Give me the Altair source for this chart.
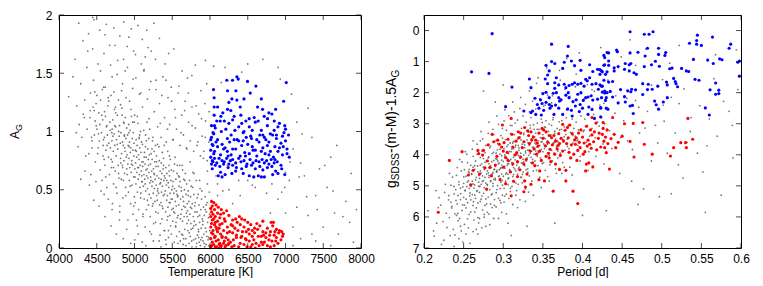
import altair as alt
import pandas as pd

FONT = "Liberation Sans"

# ---------------- left panel: Temperature vs A_G ----------------
L_XTICKS = [4000, 4500, 5000, 5500, 6000, 6500, 7000, 7500, 8000]
L_YTICKS = [0, 0.5, 1, 1.5, 2]

L_GRAY_CORE = [
    (4410,1.12),(4437,0.86),(4452,1.21),(4468,0.97),(4475,1.34),(4481,0.74),(4493,1.05),(4422,0.63),
    (4503,1.02),(4512,0.81),(4528,1.16),(4534,0.92),(4546,0.67),(4551,1.27),(4563,0.99),(4570,0.58),(4578,1.10),(4585,0.88),(4592,1.38),(4597,0.76),
    (4602,0.95),(4609,0.71),(4615,1.13),(4621,0.84),(4628,1.04),(4633,0.52),(4641,0.97),(4647,1.22),(4655,0.78),(4660,0.90),(4668,0.63),(4674,1.08),(4681,0.86),(4688,1.31),(4693,0.69),(4699,0.99),
    (4701,0.92),(4706,0.74),(4712,1.10),(4718,0.83),(4723,0.55),(4729,0.98),(4734,1.19),(4740,0.88),(4745,0.66),(4751,1.04),(4757,0.79),(4762,0.93),(4768,0.47),(4773,1.14),(4779,0.85),(4784,0.71),(4790,1.00),(4795,0.60),(4714,0.96),(4787,1.27),
    (4802,1.05),(4806,0.36),(4811,0.90),(4815,0.77),(4820,0.99),(4824,0.59),(4829,0.81),(4833,1.20),(4838,0.71),(4842,0.91),(4847,0.43),(4851,0.88),(4856,1.08),(4860,0.75),(4865,0.97),(4869,0.64),(4874,0.83),(4878,1.12),(4883,0.52),(4887,0.94),(4892,0.78),(4896,1.03),(4845,0.69),(4871,0.86),
    (4901,0.80),(4905,0.63),(4909,0.97),(4912,0.72),(4916,0.88),(4920,0.48),(4923,1.06),(4927,0.77),(4931,0.58),(4934,0.91),(4938,0.69),(4942,1.01),(4945,0.82),(4949,0.38),(4952,0.86),(4956,0.65),(4960,1.13),(4963,0.75),(4967,0.54),(4970,0.94),(4974,0.71),(4978,0.84),(4981,0.29),(4985,0.99),(4988,0.61),(4992,0.79),(4995,0.90),(4998,0.44),
    (5002,1.14),(5005,0.68),(5009,0.39),(5012,0.84),(5015,0.73),(5019,0.55),(5022,0.93),(5025,0.24),(5029,0.78),(5032,0.65),(5035,0.88),(5039,0.48),(5042,0.69),(5045,1.07),(5049,0.59),(5052,0.80),(5055,0.33),(5059,0.76),(5062,0.95),(5065,0.63),(5069,0.86),(5072,0.52),(5075,0.71),(5079,1.00),(5082,0.43),(5085,0.82),(5089,0.66),(5092,0.91),(5095,0.57),(5098,0.74),
    (5102,0.57),(5105,0.89),(5108,0.70),(5112,0.27),(5115,0.74),(5118,0.53),(5122,1.01),(5125,0.63),(5128,0.42),(5132,0.82),(5135,0.59),(5138,0.72),(5142,0.18),(5145,0.87),(5148,0.49),(5152,0.67),(5155,0.78),(5158,0.33),(5162,0.62),(5165,1.08),(5168,0.68),(5172,0.51),(5175,0.85),(5178,0.60),(5182,0.76),(5185,0.37),(5188,0.94),(5192,0.65),(5195,0.46),(5198,0.80),
    (5201,1.02),(5204,0.56),(5208,0.27),(5211,0.72),(5214,0.61),(5218,0.43),(5221,0.81),(5224,0.12),(5228,0.66),(5231,0.53),(5234,0.76),(5238,0.36),(5241,0.57),(5244,0.95),(5248,0.47),(5251,0.68),(5254,0.21),(5258,0.64),(5261,0.83),(5264,0.51),(5268,0.74),(5271,0.40),(5274,0.59),(5278,0.88),(5281,0.31),(5284,0.70),(5288,0.54),(5291,0.79),(5294,0.45),(5298,0.62),
    (5301,0.41),(5305,0.89),(5308,0.51),(5312,0.30),(5315,0.70),(5319,0.47),(5322,0.60),(5326,0.06),(5329,0.75),(5333,0.37),(5336,0.55),(5340,0.66),(5343,0.21),(5347,0.56),(5350,0.39),(5354,0.73),(5357,0.48),(5361,0.64),(5364,0.25),(5368,0.82),(5371,0.53),(5375,0.34),(5378,0.68),(5382,0.45),(5385,0.77),(5389,0.58),(5392,0.15),(5396,0.62),
    (5401,0.15),(5405,0.60),(5408,0.49),(5412,0.31),(5415,0.69),(5419,0.03),(5422,0.54),(5426,0.41),(5429,0.64),(5433,0.24),(5436,0.45),(5440,0.83),(5443,0.35),(5447,0.56),(5450,0.09),(5454,0.52),(5457,0.71),(5461,0.39),(5464,0.62),(5468,0.28),(5471,0.47),(5475,0.76),(5478,0.19),(5482,0.58),(5485,0.42),(5489,0.67),(5492,0.33),(5496,0.50),
    (5502,0.42),(5506,0.23),(5510,0.57),(5513,0.34),(5517,0.66),(5521,0.47),(5525,0.05),(5529,0.51),(5533,0.30),(5536,0.78),(5540,0.40),(5544,0.19),(5548,0.59),(5552,0.36),(5555,0.49),(5559,0.10),(5563,0.64),(5567,0.26),(5571,0.44),(5575,0.45),(5578,0.28),(5582,0.62),(5586,0.37),(5590,0.53),(5594,0.14),(5598,0.71),
    (5602,0.57),(5606,0.06),(5610,0.42),(5615,0.29),(5619,0.52),(5623,0.12),(5627,0.33),(5632,0.71),(5636,0.23),(5640,0.44),(5644,0.03),(5649,0.40),(5653,0.59),(5657,0.27),(5661,0.50),(5666,0.16),(5670,0.35),(5674,0.64),(5678,0.08),(5683,0.46),(5687,0.30),(5691,0.55),(5695,0.21),(5699,0.38),
    (5702,0.32),(5707,0.15),(5711,0.49),(5716,0.24),(5720,0.40),(5725,0.04),(5729,0.58),(5734,0.29),(5738,0.10),(5743,0.44),(5747,0.21),(5752,0.53),(5756,0.34),(5761,0.01),(5765,0.38),(5770,0.17),(5774,0.65),(5779,0.27),(5783,0.07),(5788,0.46),(5792,0.23),(5797,0.36),
    (5803,0.39),(5808,0.08),(5813,0.20),(5818,0.58),(5823,0.04),(5828,0.31),(5833,0.11),(5838,0.27),(5843,0.46),(5848,0.14),(5853,0.37),(5858,0.05),(5863,0.22),(5868,0.51),(5873,0.02),(5878,0.33),(5883,0.17),(5888,0.42),(5893,0.09),(5898,0.25),
    (5903,0.20),(5908,0.06),(5914,0.35),(5919,0.12),(5925,0.28),(5930,0.01),(5936,0.44),(5941,0.17),(5947,0.03),(5952,0.31),(5958,0.10),(5963,0.39),(5969,0.22),(5974,0.07),(5980,0.26),(5985,0.02),(5991,0.48),(5996,0.15),
]

L_GRAY_WIDE = [
    (4438,0.92),(4466,1.18),(4489,0.57),(4518,0.86),(4541,1.06),(4557,0.49),(4583,0.79),(4604,1.17),(4619,0.61),(4637,0.88),(4652,0.42),(4677,1.01),(4691,0.76),(4708,0.38),(4721,0.69),(4738,1.05),(4756,0.52),(4771,0.89),(4789,0.64),(4804,0.31),(4818,0.73),(4836,1.14),(4853,0.58),(4867,0.96),(4884,0.45),(4898,0.68),(4913,0.24),(4929,0.87),(4944,0.53),(4961,0.72),(4976,1.08),(4991,0.36),
    (5007,0.61),(5024,0.83),(5038,0.19),(5053,0.69),(5068,0.97),(5084,0.47),(5097,0.62),(5113,0.29),(5129,0.78),(5141,0.55),(5157,0.92),(5171,0.41),(5186,0.71),(5203,0.14),(5217,0.58),(5232,0.85),(5246,0.38),(5263,0.63),(5279,0.22),(5293,0.74),(5306,0.49),(5324,0.87),(5338,0.11),(5353,0.59),(5367,0.36),(5384,0.71),(5397,0.46),
    (5413,0.07),(5428,0.58),(5442,0.27),(5458,0.66),(5473,0.39),(5487,0.12),(5504,0.53),(5519,0.31),(5531,0.72),(5547,0.18),(5562,0.46),(5577,0.04),(5593,0.61),(5608,0.25),(5621,0.49),(5638,0.11),(5652,0.36),(5668,0.58),(5681,0.02),(5697,0.27),(5712,0.45),(5726,0.13),(5741,0.35),(5757,0.06),(5772,0.52),(5786,0.19),(5801,0.31),(5817,0.01),(5831,0.43),(5846,0.16),(5862,0.28),(5877,0.07),(5891,0.49),(5906,0.23),(5922,0.04),(5937,0.33),(5951,0.14),(5966,0.55),(5982,0.09),(5994,0.29),
    (4345,0.66),(4372,1.02),(4395,0.81),(4253,0.87),(4288,0.59),(4320,1.15),(4460,0.41),(4530,0.36),(4610,0.27),(4690,0.19),(4760,0.12),(4850,0.08),(4950,0.04),(5050,0.12),(5150,0.02),(5250,0.06),(5350,0.01),(5450,0.15),(5550,0.22),(5650,0.08),(5750,0.16),(5850,0.09),(5950,0.37),
    (4412,1.18),(4431,0.95),(4457,1.44),(4479,1.09),(4502,1.31),(4524,0.98),(4549,1.52),(4567,1.14),(4589,0.93),(4613,1.38),(4636,1.05),(4659,1.26),(4683,1.57),(4704,1.02),(4727,1.34),(4752,1.16),(4771,1.49),(4798,0.96),(4816,1.23),(4841,1.41),(4862,1.07),(4889,1.29),(4907,1.55),(4926,0.99),(4953,1.19),(4975,1.37),(4996,1.08),
    (5018,1.46),(5037,1.13),(5061,0.94),(5083,1.33),(5106,1.21),(5124,1.52),(5147,0.97),(5171,1.28),(5193,1.11),(5216,1.43),(5239,0.92),(5262,1.17),(5286,1.36),(5307,1.04),(5331,1.24),(5352,0.95),(5377,1.47),(5398,1.12),(5421,0.91),(5444,1.29),(5466,1.06),(5487,1.38),
    (5512,0.93),(5534,1.19),(5557,1.02),(5579,1.33),(5603,0.88),(5626,1.14),(5648,0.97),(5671,1.26),(5694,0.85),(5717,1.08),(5738,0.92),(5762,1.21),(5784,0.83),(5806,1.03),(5829,0.88),(5851,1.15),(5873,0.79),(5896,0.96),(5918,0.83),(5941,1.09),(5963,0.75),(5986,0.91),
    (4855,1.62),(5142,1.64),(5405,1.58),(5630,1.52),(5880,1.35),(5520,1.71),(5760,1.48),(5940,1.61),(5330,1.80),
]

L_GRAY_HALO = [
    (4213,1.62),(4262,1.93),(4288,1.41),(4317,1.78),(4341,1.27),(4369,1.55),(4392,1.84),(4418,1.33),(4446,1.71),(4463,1.96),(4491,1.24),(4517,1.58),(4539,1.87),(4574,1.36),(4596,1.67),(4627,1.92),(4652,1.29),(4671,1.74),(4703,1.47),(4726,1.89),
    (4748,1.21),(4777,1.61),(4806,1.82),(4829,1.35),(4858,1.94),(4877,1.52),(4903,1.73),(4934,1.26),(4958,1.88),(4981,1.45),(5013,1.66),(5047,1.91),(5066,1.32),(5104,1.79),(5127,1.53),(5163,1.87),(5198,1.36),(5222,1.69),(5257,1.93),(5283,1.44),
    (4236,1.22),(4185,1.47),(4128,1.30),(4304,0.95),(4268,1.06),(4355,0.79),(4402,0.54),(4334,1.12),(4229,0.99),(4381,1.69),(4447,1.98),(4609,1.83),(4742,1.74),(4925,1.81),(5181,1.72),(5278,1.62),(5452,1.67),(5090,1.58),(4990,1.69),
    (5340,1.07),(5362,1.31),(5393,0.88),(5417,1.44),(5438,1.02),(5463,0.79),(5491,1.26),(5508,0.93),(5543,1.12),(5566,0.71),(5588,1.39),(5615,0.99),(5637,0.67),(5664,1.18),(5686,0.86),(5712,1.33),(5737,0.74),(5763,1.05),(5788,0.64),(5815,1.22),(5839,0.91),(5862,0.58),(5887,1.11),(5913,0.77),(5938,0.95),(5965,0.66),(5988,1.17),
    (5702,1.46),(5806,1.57),(5932,1.24),(5957,1.41),(6048,1.56),(4598,0.46),(4703,0.33),(4801,0.24),(4897,0.16),(5004,0.07),(5103,0.05),
    (6100,0.55),(6250,0.50),(6400,0.45),(6500,0.58),(6600,0.52),(6750,0.47),(6900,0.42),(7050,0.58),(7150,0.35),(7250,0.62),(7300,0.28),(7400,0.45),(7500,0.18),(7550,0.52),(7650,0.30),(7700,0.12),(7800,0.40),(7850,0.22),(7900,0.05),(7100,0.85),
    (7200,0.73),(7350,0.95),(7450,0.68),(7600,0.78),(7100,0.18),(7200,0.08),(7400,0.06),(7000,0.30),(6950,0.48),(7150,1.08),(7300,1.20),(6200,1.55),(6700,1.62),(6500,1.58),(7100,0.02),(7600,0.02),(6100,0.45),(6300,0.38),(6800,0.30),(7000,0.65),
    (6080,0.62),(6230,0.71),(6170,0.49),(6380,0.58),(6560,0.54),(6820,0.55),(6990,0.52),(7060,0.74),(7180,0.61),(7280,0.44),(7420,0.33),(7520,0.71),(7630,0.49),(7760,0.27),(7940,0.33),(7350,0.12),(7080,1.32),(7220,0.98),(6930,1.45),(6150,1.42),(6420,1.51),(6900,1.55),(7680,0.88),(7870,0.64),
]

L_BLUE = [
    (6356,1.47),(6374,1.45),(6223,1.44),(6298,1.44),(6497,1.43),(7010,1.42),(6608,1.39),(6046,1.36),(6343,1.35),(6232,1.35),(6533,1.33),(6290,1.28),(6055,1.29),(6356,1.27),(6975,1.26),(6055,1.21),(6100,1.21),(6232,1.19),(6630,1.21),(6276,1.18),(6696,1.19),(6869,1.19),(6820,1.15),(6320,1.13),(6409,1.14),(6055,1.14),(6144,1.13),(6519,1.11),(6585,1.12),(6718,1.13),(6475,1.09),(6638,1.09),(6762,1.11),(6135,1.09),(6851,1.09),
    (6020,1.05),(6040,0.99),(6070,1.03),(6190,1.09),(6210,1.02),(6250,1.07),(6300,1.10),(6380,1.04),(6420,1.07),(6450,1.00),(6520,1.04),(6560,1.01),(6600,1.08),(6680,1.01),(6700,0.97),(6760,1.05),(6800,0.98),(6850,1.01),(6900,1.04),(6960,0.96),(7000,1.02),(7040,0.97),(6980,0.99),
    (6020,0.95),(6050,0.98),(6100,0.93),(6150,1.00),(6230,0.94),(6280,0.97),(6330,1.01),(6360,0.93),(6440,0.99),(6480,0.95),(6540,0.96),(6620,0.93),(6660,0.97),(6720,0.95),(6780,0.91),(6830,0.97),(6880,0.94),(6940,0.90),(7000,0.92),(6970,0.87),
    (6010,0.93),(6040,0.88),(6080,0.91),(6160,0.89),(6200,0.86),(6260,0.91),(6300,0.85),(6380,0.92),(6420,0.88),(6500,0.89),(6560,0.87),(6600,0.84),(6650,0.91),(6700,0.86),(6760,0.88),(6800,0.83),(6860,0.87),(6920,0.86),(7020,0.85),
    (6010,0.84),(6060,0.83),(6100,0.87),(6140,0.80),(6180,0.85),(6230,0.83),(6280,0.80),(6340,0.85),(6400,0.79),(6460,0.82),(6520,0.81),(6570,0.84),(6620,0.79),(6680,0.83),(6730,0.81),(6780,0.80),(6840,0.78),(6900,0.83),(6960,0.80),(7050,0.78),(7020,0.81),
    (6010,0.78),(6030,0.75),(6060,0.77),(6090,0.73),(6120,0.77),(6160,0.75),(6190,0.74),(6220,0.77),(6250,0.72),(6270,0.75),(6300,0.76),(6340,0.73),(6380,0.77),(6410,0.74),(6450,0.75),(6490,0.72),(6530,0.76),(6570,0.73),(6610,0.75),(6650,0.74),(6690,0.76),(6720,0.73),(6750,0.75),(6780,0.72),(6810,0.76),(6850,0.73),(6890,0.74),
    (6020,0.72),(6070,0.71),(6130,0.70),(6180,0.72),(6240,0.69),(6300,0.71),(6350,0.69),(6420,0.68),(6480,0.70),(6550,0.71),(6600,0.68),(6660,0.70),(6700,0.67),(6760,0.69),(6820,0.70),(6870,0.66),(6950,0.68),(6990,0.63),
    (6140,0.65),(6200,0.63),(6290,0.64),(6340,0.66),(6440,0.64),(6520,0.62),(6580,0.61),(6640,0.62),(6680,0.61),(6720,0.61),(6830,0.63),(6900,0.64),(6160,0.61),(6110,0.62),(6030,0.68),(6040,0.74),(6050,0.81),(6030,0.89),(6060,1.05),(6090,1.09),(6170,1.16),(6400,1.21),(6250,1.25),(6450,1.28),(6680,1.28),(6780,1.16),(6920,1.07),(6990,1.05),(6860,0.76),(6940,0.71),(6240,0.79),(6470,0.79),(6440,0.92),(6550,0.94),(6320,0.93),(6740,0.93),(6880,0.97),
]

L_RED = [
    (6020,0.40),(6050,0.39),(6080,0.37),(6030,0.36),(6110,0.35),(6010,0.34),(6060,0.33),(6150,0.33),(6220,0.32),(6020,0.31),(6100,0.30),(6040,0.29),(6180,0.30),(6250,0.28),(6010,0.27),(6070,0.27),(6130,0.26),(6390,0.27),(6420,0.25),(6300,0.24),(6340,0.25),(6460,0.24),(6030,0.24),(6100,0.23),(6200,0.23),(6360,0.22),(6500,0.22),(6700,0.23),(6810,0.22),(6840,0.22),
    (6020,0.21),(6060,0.20),(6160,0.21),(6280,0.20),(6400,0.20),(6540,0.20),(6620,0.21),(6010,0.18),(6080,0.18),(6120,0.17),(6230,0.18),(6330,0.17),(6450,0.18),(6590,0.17),(6760,0.17),(6880,0.16),(6040,0.15),(6100,0.14),(6180,0.15),(6260,0.14),(6370,0.15),(6480,0.14),(6560,0.15),(6700,0.14),(6800,0.14),(6950,0.14),(6910,0.13),
    (6020,0.13),(6070,0.10),(6140,0.12),(6210,0.09),(6300,0.13),(6420,0.10),(6520,0.12),(6640,0.10),(6740,0.13),(6850,0.11),(6960,0.10),
    (6010,0.08),(6060,0.09),(6110,0.07),(6160,0.09),(6240,0.07),(6350,0.09),(6470,0.08),(6580,0.07),(6680,0.10),(6780,0.07),(6880,0.09),(6940,0.07),
    (6030,0.05),(6080,0.06),(6130,0.04),(6190,0.06),(6270,0.05),(6400,0.04),(6520,0.06),(6610,0.04),(6720,0.05),(6820,0.06),(6900,0.04),
    (6020,0.02),(6050,0.03),(6090,0.01),(6120,0.03),(6150,0.02),(6180,0.04),(6210,0.02),(6240,0.03),(6320,0.02),(6450,0.03),(6490,0.01),(6560,0.03),(6650,0.02),(6700,0.03),(6760,0.02),(6850,0.02),
    (6010,0.01),(6070,0.01),(6100,0.00),(6140,0.01),(6200,0.01),(6290,0.01),(6380,0.01),(6540,0.01),(6600,0.00),(6800,0.01),(6040,0.12),(6090,0.16),(6050,0.25),(6130,0.20),(6160,0.10),(6230,0.13),(6310,0.07),(6430,0.14),(6480,0.07),(6560,0.10),(6630,0.16),(6680,0.05),(6740,0.09),(6830,0.19),(6870,0.06),(6920,0.15),(6970,0.12),(6250,0.04),(6350,0.11),(6410,0.09),(6590,0.13),(6660,0.19),(6710,0.11),(6790,0.11),(6860,0.14),(6300,0.19),(6510,0.16),(6140,0.29),(6190,0.25),(6070,0.22),
]

# ---------------- right panel: Period vs g_SDSS-(m-M)-1.5A_G ----------------
R_XTICKS = [0.2, 0.25, 0.3, 0.35, 0.4, 0.45, 0.5, 0.55, 0.6]
R_YTICKS = [0, 1, 2, 3, 4, 5, 6, 7]

R_GRAY_CORE = [
    (0.221,5.62),(0.224,6.15),(0.226,5.21),(0.228,5.88),(0.216,6.20),(0.218,5.70),
    (0.231,5.45),(0.232,6.02),(0.234,4.98),(0.235,5.71),(0.237,6.40),(0.238,5.26),(0.239,5.90),(0.233,6.60),
    (0.240,5.12),(0.241,4.66),(0.242,5.58),(0.243,5.31),(0.244,4.87),(0.245,6.05),(0.246,5.44),(0.247,4.52),(0.248,5.79),(0.249,5.03),(0.247,6.45),(0.241,5.95),(0.244,6.70),(0.246,6.30),
    (0.250,4.92),(0.250,5.37),(0.251,4.48),(0.252,5.16),(0.253,5.71),(0.253,4.69),(0.254,5.02),(0.255,4.25),(0.255,5.54),(0.256,4.83),(0.257,5.92),(0.257,4.58),(0.258,5.23),(0.258,4.96),(0.259,5.45),(0.259,4.34),(0.251,6.24),(0.257,5.08),(0.253,6.55),(0.256,6.35),
    (0.260,4.61),(0.261,5.28),(0.261,4.85),(0.262,5.63),(0.262,4.40),(0.263,5.07),(0.264,4.97),(0.264,5.84),(0.265,4.20),(0.265,5.40),(0.266,4.73),(0.267,5.15),(0.267,3.98),(0.268,5.55),(0.268,4.55),(0.269,5.01),(0.269,4.88),(0.263,6.10),(0.266,6.40),(0.262,4.05),(0.264,5.30),(0.268,6.02),
    (0.270,4.76),(0.270,5.21),(0.271,4.34),(0.271,5.50),(0.272,4.59),(0.272,4.95),(0.273,3.87),(0.273,5.33),(0.274,4.68),(0.274,5.78),(0.275,4.12),(0.275,4.83),(0.276,5.06),(0.276,4.47),(0.277,5.63),(0.277,4.24),(0.278,4.91),(0.278,3.70),(0.279,5.14),(0.279,4.62),(0.270,6.05),(0.273,6.35),(0.276,5.92),(0.278,5.42),(0.271,3.55),(0.275,4.40),
    (0.280,4.52),(0.280,4.98),(0.281,4.10),(0.281,5.36),(0.282,4.73),(0.282,4.29),(0.283,5.12),(0.283,3.77),(0.284,4.86),(0.284,5.58),(0.285,4.41),(0.285,4.64),(0.286,3.96),(0.286,5.25),(0.287,4.57),(0.287,5.01),(0.288,4.18),(0.288,4.79),(0.289,3.58),(0.289,5.44),(0.280,5.85),(0.283,6.25),(0.286,5.70),(0.288,3.35),(0.284,4.35),(0.287,4.92),(0.282,4.66),(0.289,4.47),
    (0.290,4.37),(0.290,4.81),(0.291,3.95),(0.291,5.22),(0.292,4.55),(0.292,4.14),(0.293,4.99),(0.293,3.63),(0.294,4.70),(0.294,5.40),(0.295,4.26),(0.295,4.48),(0.296,3.82),(0.296,5.09),(0.297,4.42),(0.297,4.88),(0.298,4.03),(0.298,4.62),(0.299,3.46),(0.299,5.30),(0.291,5.68),(0.294,6.05),(0.297,5.55),(0.299,3.15),(0.293,4.20),(0.296,4.76),(0.292,4.50),(0.298,4.33),
    (0.300,4.21),(0.300,4.69),(0.301,3.80),(0.301,5.08),(0.302,4.43),(0.302,4.00),(0.303,4.85),(0.303,3.51),(0.304,4.58),(0.304,5.27),(0.305,4.12),(0.305,4.34),(0.306,3.68),(0.306,4.96),(0.307,4.29),(0.307,4.74),(0.308,3.89),(0.308,4.48),(0.309,3.32),(0.309,5.18),(0.301,5.52),(0.304,5.90),(0.307,5.40),(0.309,3.05),(0.303,4.08),(0.306,4.62),(0.302,4.38),(0.308,4.20),
    (0.310,4.55),(0.310,3.90),(0.311,4.25),(0.311,5.02),(0.312,3.62),(0.312,4.70),(0.313,4.08),(0.313,4.41),(0.314,3.35),(0.314,4.87),(0.315,4.16),(0.315,3.75),(0.316,5.30),(0.316,4.52),(0.317,3.98),(0.317,4.33),(0.318,4.62),(0.318,3.50),(0.319,4.95),(0.319,4.02),(0.312,5.60),(0.315,2.98),(0.317,5.15),(0.313,3.80),(0.318,4.25),(0.319,3.70),
    (0.320,3.78),(0.320,4.40),(0.321,4.05),(0.321,3.42),(0.322,4.72),(0.322,3.95),(0.323,4.26),(0.323,3.15),(0.324,4.90),(0.324,3.66),(0.325,4.14),(0.325,4.55),(0.326,3.30),(0.326,4.01),(0.327,4.35),(0.327,3.58),(0.328,5.10),(0.328,3.88),(0.329,4.20),(0.329,2.95),(0.321,5.45),(0.324,4.63),(0.327,3.77),(0.329,4.48),
    (0.330,4.10),(0.330,3.52),(0.331,3.85),(0.331,4.45),(0.332,3.27),(0.332,4.02),(0.333,4.68),(0.333,3.70),(0.334,3.95),(0.334,3.05),(0.335,4.25),(0.335,3.60),(0.336,4.85),(0.336,3.88),(0.337,3.40),(0.337,4.15),(0.338,3.75),(0.338,4.52),(0.339,3.18),(0.339,3.98),(0.332,5.20),(0.335,2.80),
    (0.340,3.62),(0.340,4.20),(0.341,3.88),(0.341,3.30),(0.342,4.50),(0.342,3.75),(0.343,4.05),(0.343,2.98),(0.344,3.55),(0.344,4.35),(0.345,3.92),(0.345,3.18),(0.346,4.72),(0.346,3.70),(0.347,3.45),(0.347,4.10),(0.348,3.83),(0.348,2.85),(0.349,4.28),(0.349,3.58),
    (0.350,3.90),(0.350,3.35),(0.351,3.65),(0.351,4.25),(0.352,3.10),(0.352,3.80),(0.353,4.50),(0.353,3.48),(0.354,3.72),(0.354,2.90),(0.355,4.05),(0.356,3.55),(0.356,4.70),(0.357,3.25),(0.358,3.95),(0.358,3.62),(0.359,4.32),
    (0.360,3.40),(0.361,3.85),(0.361,3.05),(0.362,4.20),(0.363,3.62),(0.363,2.80),(0.364,3.95),(0.365,3.30),(0.366,4.45),(0.366,3.50),(0.367,3.75),(0.368,3.15),(0.369,4.10),(0.369,3.58),
    (0.370,3.70),(0.371,3.20),(0.372,3.95),(0.373,3.45),(0.374,2.90),(0.375,4.25),(0.376,3.60),(0.377,3.10),(0.378,3.85),(0.379,3.35),(0.374,4.60),
    (0.381,3.50),(0.382,3.05),(0.383,3.80),(0.385,3.28),(0.386,4.10),(0.387,2.85),(0.388,3.62),(0.389,3.15),(0.384,4.40),
    (0.391,3.40),(0.392,2.95),(0.394,3.70),(0.395,3.20),(0.397,4.05),(0.398,2.75),(0.393,3.55),
    (0.401,3.25),(0.403,2.85),(0.405,3.60),(0.406,3.05),(0.408,3.90),(0.409,3.40),
    (0.412,3.15),(0.414,2.70),(0.416,3.45),(0.418,3.85),(0.419,2.95),
    (0.421,3.30),(0.424,2.80),(0.426,3.65),(0.428,3.00),
]

R_GRAY_WIDE = [
    (0.2315,5.31),(0.2352,5.66),(0.2378,5.02),(0.2404,5.47),(0.2426,5.89),(0.2441,4.96),(0.2463,5.25),(0.2487,5.61),(0.2502,4.71),(0.2519,5.14),(0.2531,5.43),(0.2548,4.88),(0.2561,4.54),(0.2577,5.32),(0.2589,5.01),(0.2603,4.63),(0.2618,4.94),(0.2624,5.51),(0.2639,4.47),(0.2651,4.81),(0.2668,5.18),(0.2676,4.36),(0.2691,4.67),(0.2705,5.02),(0.2712,4.52),(0.2728,4.29),(0.2736,4.86),(0.2752,5.24),(0.2763,4.41),(0.2771,4.73),
    (0.2789,4.18),(0.2796,4.95),(0.2811,4.58),(0.2818,4.07),(0.2833,4.39),(0.2842,4.83),(0.2856,4.22),(0.2864,4.61),(0.2877,3.92),(0.2885,4.47),(0.2898,4.76),(0.2905,4.12),(0.2914,4.55),(0.2926,3.84),(0.2937,4.29),(0.2949,4.68),(0.2958,3.98),(0.2966,4.44),(0.2978,4.17),(0.2987,4.83),(0.3004,3.88),(0.3011,4.37),(0.3025,4.05),(0.3033,4.62),(0.3046,3.73),(0.3058,4.28),(0.3067,3.96),(0.3079,4.49),(0.3088,3.62),(0.3096,4.15),
    (0.3108,3.81),(0.3117,4.34),(0.3129,3.57),(0.3138,4.02),(0.3146,4.46),(0.3157,3.69),(0.3168,3.93),(0.3176,4.21),(0.3189,3.44),(0.3197,3.86),(0.3212,4.11),(0.3224,3.52),(0.3236,3.77),(0.3248,4.26),(0.3259,3.35),(0.3271,3.68),(0.3283,3.94),(0.3297,3.22),(0.3312,3.61),(0.3326,3.85),(0.3341,3.14),(0.3356,3.49),(0.3368,3.76),(0.3382,3.03),(0.3396,3.42),(0.3413,3.66),(0.3428,3.18),(0.3444,3.93),(0.3459,3.31),(0.3476,3.58),
    (0.3491,2.96),(0.3512,3.44),(0.3533,3.12),(0.3557,3.67),(0.3578,3.01),(0.3602,3.36),(0.3627,2.87),(0.3651,3.24),(0.3679,3.55),(0.3706,2.94),(0.3734,3.18),(0.3768,3.42),(0.3795,2.81),(0.3826,3.06),
    (0.213,6.62),(0.219,5.38),(0.222,6.88),(0.227,4.95),(0.229,6.34),(0.234,5.52),(0.236,4.72),(0.239,6.58),(0.242,4.41),(0.243,6.12),(0.246,5.07),(0.248,4.23),(0.249,6.81),(0.251,5.62),(0.254,3.98),(0.255,6.06),(0.257,4.47),(0.259,5.84),(0.261,3.82),(0.262,6.47),(0.264,4.35),(0.266,5.71),(0.267,3.66),(0.269,6.19),(0.271,4.09),(0.272,5.43),(0.274,3.49),(0.276,6.01),(0.277,3.93),(0.279,5.58),
    (0.281,3.31),(0.282,5.91),(0.284,3.72),(0.285,5.29),(0.287,3.18),(0.289,5.63),(0.291,3.54),(0.292,5.12),(0.294,3.02),(0.296,5.47),(0.297,3.38),(0.299,4.98),(0.301,2.91),(0.302,5.33),(0.304,3.21),(0.306,4.77),(0.307,2.74),(0.309,5.08),(0.311,3.06),(0.313,4.64),(0.314,2.62),(0.316,4.91),(0.318,2.88),(0.319,4.45),(0.321,2.51),(0.323,4.73),(0.325,2.75),(0.326,4.22),(0.328,2.38),(0.331,4.56),
    (0.333,2.61),(0.335,4.08),(0.337,2.27),(0.339,4.34),(0.341,2.52),(0.344,3.88),(0.346,2.19),(0.348,4.17),(0.351,2.43),(0.353,3.74),(0.356,2.08),(0.358,4.02),(0.361,2.33),(0.364,3.62),(0.367,1.98),(0.369,3.88),(0.372,2.21),(0.375,3.51),(0.378,1.89),(0.381,3.73),(0.384,2.12),(0.388,3.38),(0.391,1.81),(0.394,3.52),(0.398,2.03),(0.402,3.21),(0.406,1.74),(0.411,3.35),(0.415,1.95),(0.421,3.08),
    (0.427,2.34),(0.434,3.22),(0.441,2.66),(0.448,3.45),(0.456,2.18),(0.463,3.83),(0.471,2.47),(0.479,3.14),(0.487,1.76),(0.495,3.62),(0.503,2.92),(0.512,2.15),(0.521,4.32),(0.528,1.88),(0.536,3.25),(0.548,2.42),(0.557,3.71),(0.566,1.55),(0.578,2.28),(0.589,3.05),(0.594,0.62),(0.568,0.78),(0.522,0.48),(0.501,1.58),(0.467,1.12),(0.449,0.85),(0.423,0.55),(0.396,0.72),(0.371,1.28),(0.344,1.52),
    (0.205,5.80),(0.212,6.45),(0.215,5.15),(0.225,6.75),(0.232,4.60),(0.238,6.95),(0.245,4.15),(0.252,3.90),(0.258,6.85),(0.262,3.55),(0.268,6.55),(0.272,3.25),(0.278,6.30),(0.282,2.95),(0.288,6.05),(0.292,2.75),(0.298,5.85),(0.302,2.55),(0.306,6.20),(0.312,2.30),(0.318,5.70),(0.322,2.15),(0.328,5.50),(0.333,1.95),(0.338,5.30),(0.342,1.70),(0.348,5.05),(0.353,2.40),(0.358,4.85),(0.362,2.10),
    (0.367,4.60),(0.372,1.60),(0.377,4.40),(0.382,2.50),(0.387,4.65),(0.392,1.40),(0.397,4.20),(0.402,2.20),(0.407,4.50),(0.412,1.90),(0.417,4.05),(0.422,2.40),(0.427,4.30),(0.432,1.60),(0.437,3.80),(0.442,2.10),(0.447,4.60),(0.452,2.90),(0.457,3.55),(0.462,4.85),(0.467,2.25),(0.472,3.30),(0.477,5.10),(0.482,2.60),(0.487,4.20),(0.492,3.05),(0.497,5.35),(0.502,2.40),(0.507,3.95),(0.512,5.25),
    (0.517,3.30),(0.522,2.35),(0.527,4.75),(0.532,3.60),(0.537,2.80),(0.545,3.95),(0.552,4.55),(0.560,2.85),(0.570,3.40),(0.585,2.60),(0.596,1.90),(0.590,4.10),(0.575,5.30),(0.555,5.85),(0.470,5.60),(0.430,5.80),(0.400,5.95),(0.365,6.20),(0.330,6.30),(0.310,6.60),(0.355,1.20),(0.380,0.90),(0.440,1.30),(0.480,0.60),(0.510,1.05),(0.460,0.30),(0.300,1.75),(0.275,1.95),(0.290,2.30),
]

R_BLUE = [
    (0.286,0.10),(0.260,1.33),(0.282,1.38),(0.361,0.44),(0.382,0.51),(0.311,1.82),(0.303,2.45),(0.333,1.56),(0.335,1.84),(0.354,1.12),(0.358,1.30),(0.356,1.43),(0.361,1.00),(0.365,1.06),(0.367,1.52),(0.375,1.22),(0.377,1.02),(0.381,0.82),(0.386,0.98),(0.390,1.13),(0.398,1.28),(0.397,0.96),(0.409,1.10),(0.413,1.32),(0.419,1.25),(0.422,1.41),(0.424,1.30),(0.427,0.80),(0.428,1.10),(0.431,0.71),(0.433,0.98),(0.429,1.41),
    (0.353,1.56),(0.356,1.71),(0.365,1.68),(0.365,1.86),(0.370,1.75),(0.377,1.73),(0.379,1.84),(0.383,1.77),(0.387,1.73),(0.390,1.68),(0.394,1.73),(0.398,1.70),(0.402,1.79),(0.404,1.57),(0.406,1.62),(0.409,1.52),(0.412,1.73),(0.417,1.71),(0.420,1.89),(0.425,1.79),(0.428,1.95),(0.431,2.00),
    (0.350,2.03),(0.354,1.99),(0.358,2.16),(0.363,2.02),(0.367,2.00),(0.370,2.16),(0.373,2.23),(0.379,2.08),(0.382,2.00),(0.383,2.16),(0.388,2.29),(0.392,2.23),(0.394,2.05),(0.398,2.00),(0.401,2.25),(0.404,2.16),(0.407,2.14),(0.411,2.10),(0.413,2.24),(0.419,2.21),(0.424,2.16),(0.429,2.25),
    (0.340,2.18),(0.347,2.23),(0.343,2.38),(0.349,2.35),(0.354,2.31),(0.358,2.38),(0.361,2.43),(0.366,2.40),(0.371,2.27),(0.337,2.59),(0.345,2.50),(0.351,2.57),(0.359,2.50),(0.370,2.50),(0.381,2.53),(0.386,2.57),(0.391,2.43),(0.397,2.38),(0.400,2.50),(0.408,2.46),(0.412,2.54),(0.423,2.48),(0.430,2.50),(0.326,2.59),(0.335,2.64),(0.341,2.70),(0.348,2.72),(0.364,2.70),(0.375,2.70),(0.387,2.75),(0.396,2.61),(0.407,2.70),(0.415,2.83),(0.423,2.78),
    (0.460,0.04),(0.478,0.12),(0.484,0.12),(0.489,0.04),(0.545,0.15),(0.564,0.21),(0.535,0.41),(0.544,0.32),(0.544,0.44),(0.550,0.48),(0.587,0.44),(0.585,0.57),(0.598,0.98),(0.596,1.02),(0.573,0.91),(0.576,0.94),(0.558,0.95),(0.565,1.06),(0.540,0.93),(0.482,0.57),(0.496,0.57),(0.479,0.82),(0.470,0.70),(0.460,0.72),(0.443,0.63),(0.444,0.68),(0.433,0.72),(0.428,0.87),(0.505,0.71),(0.504,0.80),(0.496,0.77),(0.492,0.99),(0.487,1.10),(0.497,1.15),(0.478,1.16),(0.461,1.06),(0.459,1.10),(0.454,1.06),(0.445,1.16),(0.440,1.20),(0.433,1.12),(0.427,1.12),(0.422,1.26),(0.425,1.33),(0.431,1.33),(0.440,1.30),(0.453,1.25),(0.459,1.30),(0.465,1.36),(0.468,1.41),
    (0.510,1.23),(0.513,1.21),(0.525,1.22),(0.531,1.30),(0.534,1.32),(0.542,1.57),(0.547,1.60),(0.515,1.54),(0.517,1.64),(0.518,1.71),(0.520,1.81),(0.506,1.66),(0.507,1.75),(0.495,1.79),(0.483,1.73),(0.476,1.71),(0.488,1.89),(0.482,1.90),(0.467,1.91),(0.462,1.89),(0.461,1.97),(0.457,1.94),(0.448,1.90),(0.438,1.64),(0.433,1.66),(0.427,1.60),(0.424,1.79),(0.422,1.75),(0.425,1.98),(0.428,2.01),(0.435,1.96),(0.430,2.16),(0.438,2.14),(0.445,2.33),(0.454,2.30),(0.453,2.13),(0.460,2.43),(0.463,2.41),(0.476,2.06),(0.491,2.27),(0.493,2.39),(0.496,2.53),(0.502,2.30),(0.507,2.16),(0.568,1.69),(0.561,1.91),(0.568,2.05),(0.572,2.03),(0.572,1.92),(0.598,1.47),(0.555,2.49),(0.560,2.72),(0.423,2.50),(0.432,2.53),(0.464,2.67),
]

R_RED = [
    (0.232,4.18),(0.248,3.90),(0.256,4.65),(0.259,4.97),(0.268,3.86),(0.269,3.96),(0.274,4.01),(0.275,3.86),(0.281,3.68),(0.283,4.41),(0.285,4.68),(0.286,3.34),(0.288,3.58),(0.293,3.53),(0.295,3.66),(0.299,3.04),(0.300,3.88),(0.301,3.61),(0.303,4.09),(0.303,4.93),(0.306,3.50),(0.306,4.18),(0.310,2.83),(0.311,3.34),(0.312,3.75),(0.312,4.29),(0.316,3.56),(0.317,3.93),(0.318,4.22),(0.319,3.26),(0.320,3.45),(0.322,4.07),(0.324,3.77),(0.326,3.58),(0.327,4.84),(0.328,5.04),(0.329,4.15),
    (0.331,3.23),(0.332,3.38),(0.333,3.64),(0.334,3.88),(0.335,3.26),(0.337,4.26),(0.338,3.43),(0.339,3.81),(0.341,3.53),(0.342,3.98),(0.343,3.62),(0.345,3.30),(0.346,3.88),(0.348,4.18),(0.349,3.15),(0.350,3.47),(0.352,4.84),(0.353,3.71),(0.354,4.05),(0.354,3.26),(0.356,3.60),(0.358,3.38),(0.359,3.82),(0.360,4.22),(0.362,3.68),(0.363,5.17),(0.364,3.38),(0.365,3.98),(0.366,3.56),(0.368,3.81),(0.370,3.32),(0.371,3.64),(0.373,3.47),(0.375,3.02),(0.375,3.88),(0.378,3.21),(0.379,4.50),(0.379,4.84),(0.380,3.64),(0.382,3.45),(0.383,3.92),(0.384,3.04),(0.386,3.68),(0.387,3.32),(0.388,5.17),(0.389,3.98),
    (0.391,3.66),(0.392,3.45),(0.394,3.86),(0.395,3.30),(0.396,3.60),(0.397,3.77),(0.400,3.43),(0.401,3.98),(0.403,3.90),(0.404,4.52),(0.405,3.08),(0.407,3.53),(0.408,4.26),(0.409,3.66),(0.411,3.79),(0.412,3.36),(0.415,3.26),(0.417,2.98),(0.420,3.47),(0.423,3.75),(0.425,3.34),(0.427,3.56),(0.428,3.77),(0.429,3.43),(0.432,3.64),(0.426,3.15),(0.426,2.96),
    (0.218,5.85),(0.279,5.10),(0.310,5.32),(0.326,5.19),(0.394,5.57),(0.371,4.47),(0.434,4.46),(0.413,4.39),(0.405,4.30),(0.430,3.93),(0.442,3.77),(0.440,3.34),(0.438,2.80),(0.453,3.00),(0.460,3.57),(0.464,2.99),(0.465,4.07),(0.478,3.66),(0.476,2.96),(0.488,3.98),(0.511,4.04),(0.515,3.77),(0.524,3.61),(0.530,3.61),(0.531,3.77),(0.533,2.83),(0.539,3.50),(0.412,2.80),
    (0.322,3.30),(0.327,3.12),(0.336,3.52),(0.344,3.72),(0.351,3.20),(0.357,3.95),(0.361,3.45),(0.369,3.70),(0.372,4.02),(0.376,3.55),(0.381,3.12),(0.385,4.10),(0.390,3.52),(0.393,4.18),(0.398,3.20),(0.402,3.62),(0.406,3.72),(0.410,3.20),(0.414,3.58),(0.418,3.84),(0.421,3.30),(0.431,3.20),(0.436,3.48),(0.445,3.60),(0.450,3.40),(0.298,3.75),(0.305,3.92),(0.309,4.55),(0.315,4.00),(0.321,4.48),(0.326,4.30),(0.330,4.62),(0.290,4.33),(0.296,4.80),(0.277,4.42),(0.262,4.50),(0.270,4.62),(0.313,4.85),(0.340,4.35),(0.346,4.52),(0.358,4.10),(0.366,4.30),(0.280,4.20),(0.292,4.05),(0.300,4.40),(0.318,4.70),(0.335,4.95),(0.345,4.80),
]

# approximate Arial/Liberation Sans advance widths (per 1000 em), for placing title pieces
CHAR_W = {'A': 667, 'G': 778, 'g': 556, 'S': 667, 'D': 722, '-': 333, '(': 333, ')': 333,
          'm': 833, 'M': 833, '1': 556, '.': 278, '5': 556}


def text_width(s, size):
    return sum(CHAR_W.get(c, 556) for c in s) * size / 1000.0


def panel(gray, blue, red, xdom, ydom, yrev, xticks, yticks, xtitle, W, H,
          ypieces, ytitle_x, ylabel_pad, ytitle_bottom=None):
    xs = alt.Scale(domain=xdom, nice=False, zero=False)
    ys = alt.Scale(domain=ydom, nice=False, zero=False, reverse=yrev)
    xax = alt.Axis(values=xticks, ticks=False, domain=False, grid=False,
                   labelExpr="datum.value + ''", labelPadding=5, title=xtitle,
                   titlePadding=2, labelFlush=False)
    yax = alt.Axis(values=yticks, ticks=False, domain=False, grid=False,
                   labelExpr="datum.value + ''", labelPadding=ylabel_pad, title=None)

    def pts(rows, color, size, opacity):
        d = pd.DataFrame(rows, columns=["x", "y"])
        return alt.Chart(d).mark_circle(size=size, color=color, opacity=opacity, clip=True).encode(
            x=alt.X("x:Q", scale=xs, axis=xax), y=alt.Y("y:Q", scale=ys, axis=yax))

    layers = [pts(gray, "#555555", 3.2, 0.8), pts(blue, "#0000ff", 10, 1), pts(red, "#ff0000", 10, 1)]

    tx = pd.DataFrame({"x": xticks})
    ty = pd.DataFrame({"y": yticks})
    for yv in (H - 2.5, 2.5):
        layers.append(alt.Chart(tx).mark_tick(orient="vertical", size=5, thickness=1, color="black").encode(
            x=alt.X("x:Q", scale=xs, axis=xax), y=alt.value(yv)))
    for xv in (2.5, W - 2.5):
        layers.append(alt.Chart(ty).mark_tick(orient="horizontal", size=5, thickness=1, color="black").encode(
            y=alt.Y("y:Q", scale=ys, axis=yax), x=alt.value(xv)))

    total = sum(text_width(t, s) for t, s, _ in ypieces)
    ycur = ytitle_bottom if ytitle_bottom is not None else H / 2 + total / 2
    for t, s, dx in ypieces:
        layers.append(alt.Chart(pd.DataFrame({"t": [t]})).mark_text(
            angle=270, align="left", baseline="alphabetic", font=FONT, fontSize=s, color="black").encode(
            x=alt.value(ytitle_x + dx), y=alt.value(ycur), text="t:N"))
        ycur -= text_width(t, s)

    return alt.layer(*layers).properties(width=W, height=H)


left = panel(L_GRAY_CORE + L_GRAY_WIDE + L_GRAY_HALO, L_BLUE, L_RED, [4000, 8000], [0, 2], False,
             L_XTICKS, L_YTICKS, "Temperature [K]", 302, 233, [("A", 12, 0), ("G", 9, 3)], -40, 7)
right = panel(R_GRAY_CORE + R_GRAY_WIDE, R_BLUE, R_RED, [0.2, 0.6], [-0.5, 7], True,
              R_XTICKS, R_YTICKS, "Period [d]", 317, 233,
              [("g", 14, 0), ("SDSS", 10, 3), ("-(m-M)-1.5A", 14, 0), ("G", 10, 3)], -28, 5, 173)

chart = alt.hconcat(left, right, spacing=9).properties(
    padding={"left": 0, "top": 0, "right": 0, "bottom": 0}
).configure_view(stroke="black", strokeWidth=1).configure_axis(
    labelFont=FONT, labelFontSize=12, labelColor="black",
    titleFont=FONT, titleFontSize=12, titleFontWeight="normal", titleColor="black"
)

chart.save("out.html", embed_options={"renderer": "svg", "actions": False})
